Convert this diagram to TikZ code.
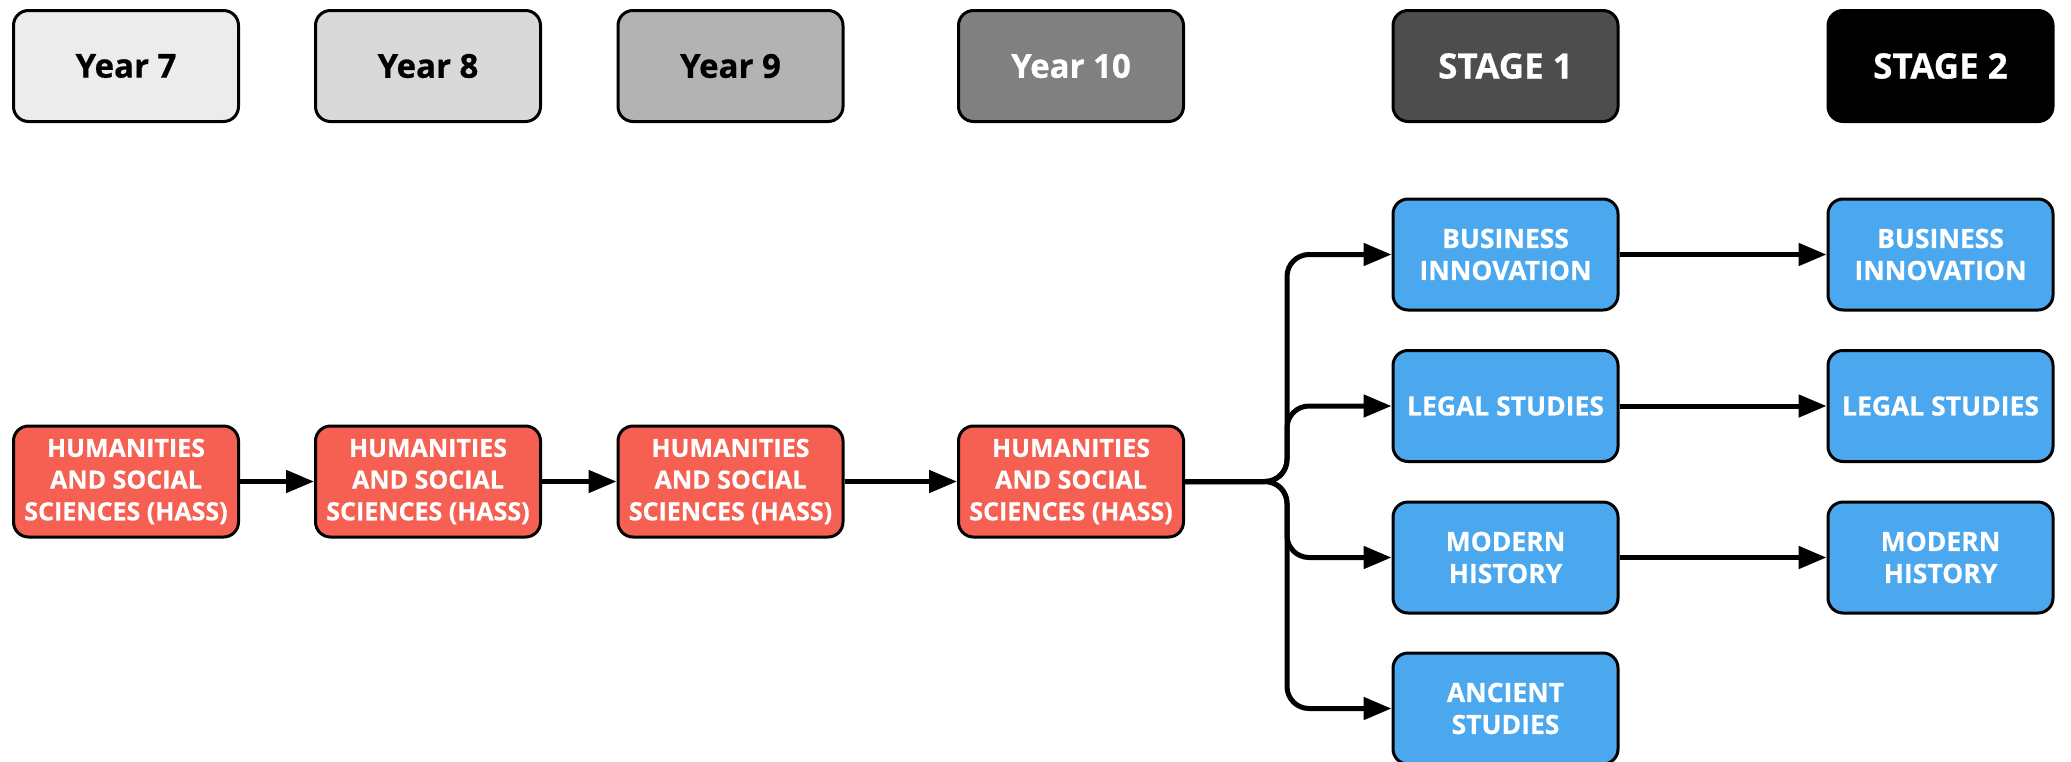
\documentclass[tikz,border=0pt]{standalone}
\usepackage{fontspec}
\setmainfont{Open Sans}[BoldFeatures={FakeBold=0.6}]
\usetikzlibrary{arrows.meta}
\definecolor{hassred}{RGB}{245,96,82}
\definecolor{subjblue}{RGB}{75,168,239}
\definecolor{yr7}{RGB}{236,236,236}
\definecolor{yr8}{RGB}{217,217,217}
\definecolor{yr9}{RGB}{179,179,179}
\definecolor{yr10}{RGB}{128,128,128}
\definecolor{stg1}{RGB}{77,77,77}
\begin{document}
\begin{tikzpicture}[x=1pt,y=-1pt,
  box/.style={rectangle, rounded corners=15pt, draw=black, line width=3pt,
    minimum width=225pt, minimum height=111pt, inner sep=0pt, align=center},
  yearbox/.style={box, font=\fontsize{33}{40}\selectfont\bfseries},
  stagebox/.style={box, text=white, font=\fontsize{35}{40}\selectfont\bfseries},
  hass/.style={box, fill=hassred, text=white, font=\fontsize{25}{31.7}\selectfont\bfseries},
  subj/.style={box, fill=subjblue, text=white, font=\fontsize{26.5}{32}\selectfont\bfseries},
  conn/.style={line width=5pt, -{Triangle[length=28pt,width=22pt]}, rounded corners=22pt}]
\useasboundingbox (0,0) rectangle (2071,761);

% year / stage headers
\node[yearbox, fill=yr7]  (y7)  at (126,66)    {Year 7};
\node[yearbox, fill=yr8]  (y8)  at (428,66)    {Year 8};
\node[yearbox, fill=yr9]  (y9)  at (730.5,66)  {Year 9};
\node[yearbox, fill=yr10, text=white] (y10) at (1071,66) {Year 10};
\node[stagebox, fill=stg1]  (st1) at (1505.5,66) {STAGE 1};
\node[stagebox, fill=black] (st2) at (1940.5,66) {STAGE 2};

% HASS pathway
\node[hass] (h7)  at (126,481.5)   {HUMANITIES\\AND SOCIAL\\SCIENCES (HASS)};
\node[hass] (h8)  at (428,481.5)   {HUMANITIES\\AND SOCIAL\\SCIENCES (HASS)};
\node[hass] (h9)  at (730.5,481.5) {HUMANITIES\\AND SOCIAL\\SCIENCES (HASS)};
\node[hass] (h10) at (1071,481.5)  {HUMANITIES\\AND SOCIAL\\SCIENCES (HASS)};

% stage 1 subjects
\node[subj] (bus1) at (1505.5,254.5) {BUSINESS\\INNOVATION};
\node[subj] (leg1) at (1505.5,406)   {LEGAL STUDIES};
\node[subj] (mod1) at (1505.5,557.5) {MODERN\\HISTORY};
\node[subj] (anc1) at (1505.5,708.5) {ANCIENT\\STUDIES};

% stage 2 subjects
\node[subj] (bus2) at (1940.5,254.5) {BUSINESS\\INNOVATION};
\node[subj] (leg2) at (1940.5,406)   {LEGAL STUDIES};
\node[subj] (mod2) at (1940.5,557.5) {MODERN\\HISTORY};

\coordinate (split) at (1287,481.5);

\draw[conn] (h7) -- (h8);
\draw[conn] (h8) -- (h9);
\draw[conn] (h9) -- (h10);

\draw[conn] (h10.east) -- (split) |- (bus1.west);
\draw[conn] (h10.east) -- (split) |- (leg1.west);
\draw[conn] (h10.east) -- (split) |- (mod1.west);
\draw[conn] (h10.east) -- (split) |- (anc1.west);

\draw[conn] (bus1) -- (bus2);
\draw[conn] (leg1) -- (leg2);
\draw[conn] (mod1) -- (mod2);
\end{tikzpicture}
\end{document}
